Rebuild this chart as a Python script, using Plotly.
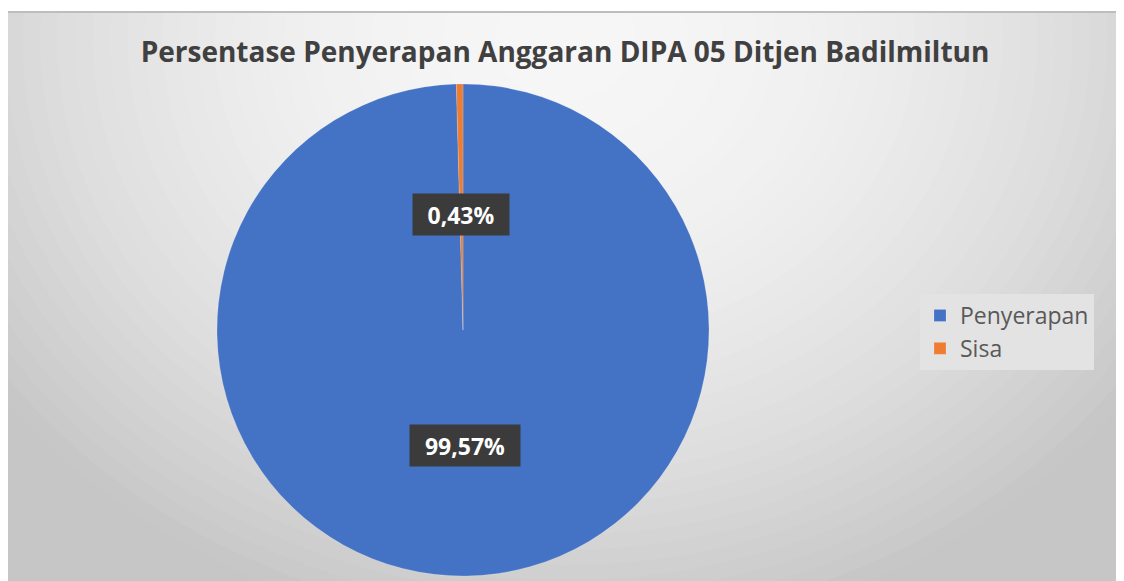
import math
import plotly.graph_objects as go

# ---- data ----
labels = ["Penyerapan", "Sisa"]
values = [99.57, 0.43]
value_text = ["99,57%", "0,43%"]
colors = ["#4472C4", "#ED7D31"]
title_text = "Persentase Penyerapan Anggaran DIPA 05 Ditjen Badilmiltun"

# page body has an 8px margin, so the figure is 8px smaller than the window
W, H = 1116, 573
# pie geometry in figure pixels
PCX, PCY, PR = 455, 322, 246
dom_x = [(PCX - PR) / W, (PCX + PR) / W]
dom_y = [(H - PCY - PR) / H, (H - PCY + PR) / H]

fig = go.Figure()
fig.add_trace(go.Pie(
    labels=labels,
    values=values,
    sort=False,
    direction="clockwise",
    rotation=0,
    marker=dict(colors=colors, line=dict(color="rgba(255,255,255,0.35)", width=0.5)),
    textinfo="none",
    hoverinfo="label+percent",
    domain=dict(x=dom_x, y=dom_y),
))

# ---- background: radial grey gradient built from layered ellipses ----
shapes = []
top_band = 3
shapes.append(dict(type="rect", xref="paper", yref="paper", x0=0, x1=1, y0=0, y1=1 - top_band / H,
                   fillcolor="#c6c6c6", line=dict(width=0), layer="below"))
GCX, GCY, GRX, GRY = 557, 32, 700, 600
N = 40
for k in range(N):
    t = 1.0 - k / N
    tm = t - 0.5 / N
    g = int(round(246 - 48 * tm * tm))
    col = f"rgb({g},{g},{g})"
    shapes.append(dict(type="circle", xref="paper", yref="paper",
                       x0=(GCX - t * GRX) / W, x1=(GCX + t * GRX) / W,
                       y0=1 - (GCY + t * GRY) / H, y1=1 - (GCY - t * GRY) / H,
                       fillcolor=col, line=dict(width=0), layer="below"))
# white top band + top border line
shapes.append(dict(type="rect", xref="paper", yref="paper", x0=-0.01, x1=1.01, y0=1 - top_band / H, y1=1.01,
                   fillcolor="white", line=dict(width=0), layer="below"))
shapes.append(dict(type="line", xref="paper", yref="paper", x0=0, x1=1, y0=1 - (top_band + 1) / H,
                   y1=1 - (top_band + 1) / H, line=dict(color="#bdbdbd", width=2), layer="below"))

# ---- data labels (positioned from slice mid-angles) ----
annotations = []
total = sum(values)
cum = 0.0
for lab, v, txt in zip(labels, values, value_text):
    mid = (cum + v / 2) / total * 2 * math.pi
    cum += v
    r = 0.47 * PR
    px = PCX + r * math.sin(mid)
    py = PCY - r * math.cos(mid)
    annotations.append(dict(
        x=px / W, y=1 - py / H, xref="paper", yref="paper",
        text=f"<b>{txt}</b>", showarrow=False,
        font=dict(family="Open Sans", size=23, color="white"),
        bgcolor="#3b3b3b", borderpad=6, width=14 * len(txt) + 14, height=29,
        align="center", valign="middle",
        xanchor="center", yanchor="middle",
    ))

fig.update_layout(
    width=W, height=H,
    margin=dict(l=0, r=0, t=0, b=0),
    paper_bgcolor="white",
    plot_bgcolor="white",
    title=dict(text=title_text, x=557 / W, y=1 - 44 / H, xanchor="center", yanchor="middle",
               font=dict(family="Open Sans", size=28, color="#404040", weight="bold")),
    legend=dict(x=912 / W, y=1 - 286 / H, xanchor="left", yanchor="top",
                bgcolor="#e3e3e3", font=dict(family="Open Sans", size=23, color="#595959"),
                borderwidth=0),
    shapes=shapes,
    annotations=annotations,
    showlegend=True,
)

fig.write_html("out.html")
